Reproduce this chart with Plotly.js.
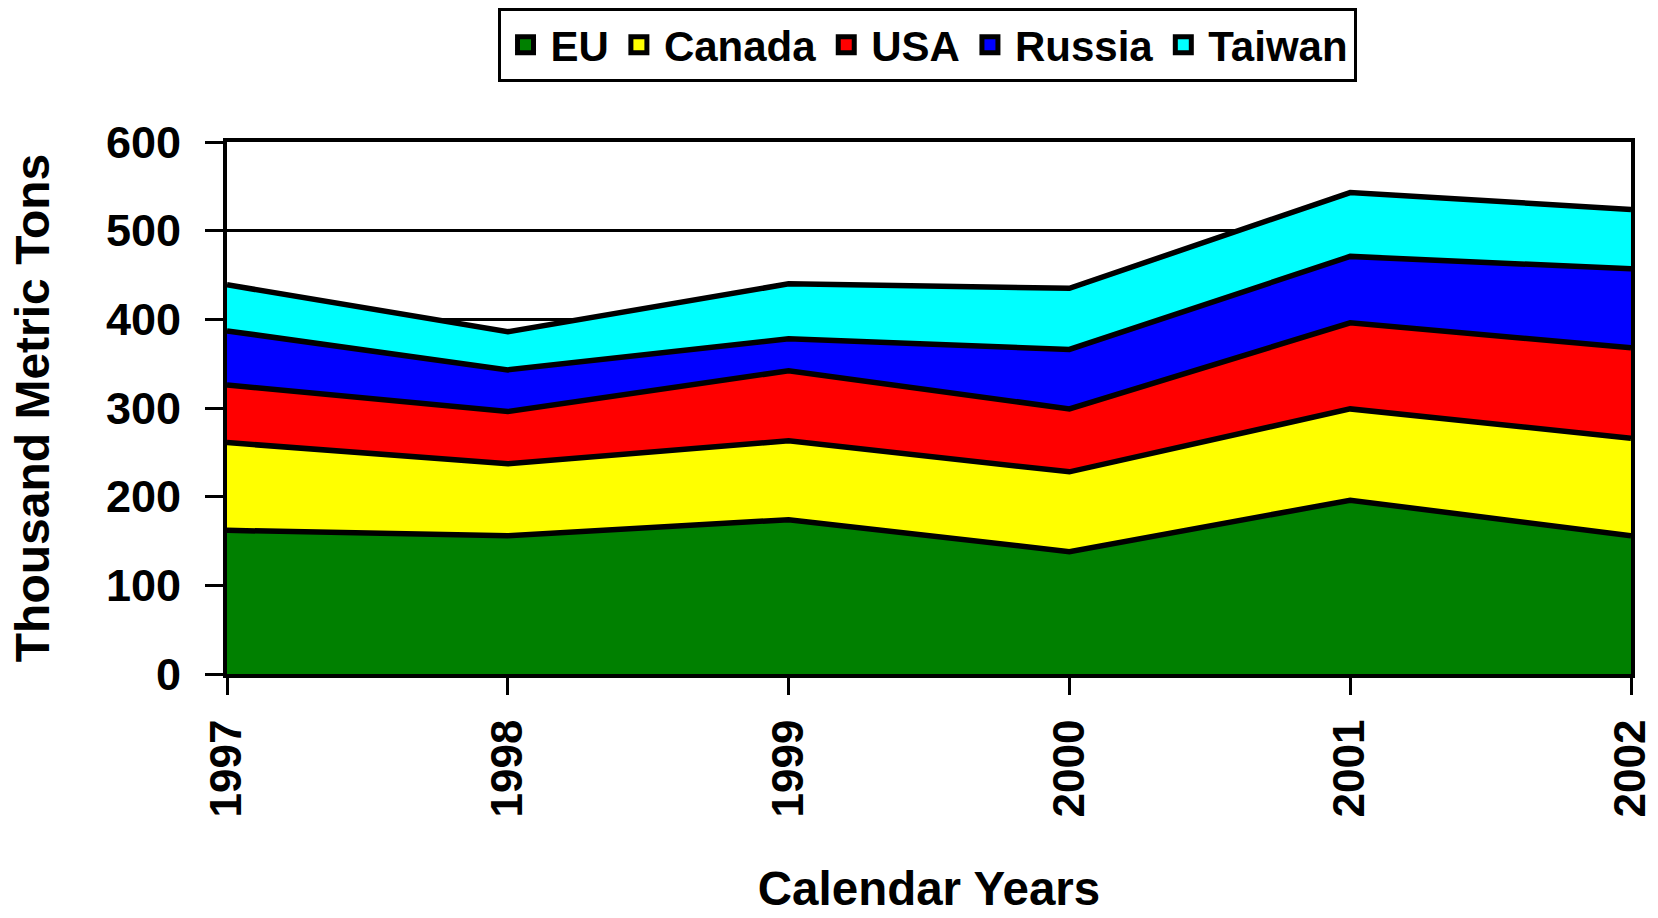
<!DOCTYPE html>
<html>
<head>
<meta charset="utf-8">
<script src="https://cdn.plot.ly/plotly-3.0.1.min.js"></script>
<style>
  html, body { margin: 0; padding: 0; background: #fff; }
  #graph { width: 1658px; height: 918px; }
</style>
</head>
<body>
<div id="graph"></div>
<script>
// years on the x axis
let years = [1997, 1998, 1999, 2000, 2001, 2002];
let yearLabels = ["1997", "1998", "1999", "2000", "2001", "2002"];

// thousand metric tons (stacked bottom to top)
let euVals = [162, 156, 174, 138, 196, 156];
let canadaVals = [99, 81, 89, 90, 103, 110];
let usaVals = [65, 59, 79, 71, 97, 102];
let russiaVals = [61, 47, 36, 67, 75, 89];
let taiwanVals = [52, 43, 62, 69, 72, 67];

let seriesNames = ["EU", "Canada", "USA", "Russia", "Taiwan"];
let seriesColors = ["#008000", "#ffff00", "#ff0000", "#0000ff", "#00ffff"];
let seriesVals = [euVals, canadaVals, usaVals, russiaVals, taiwanVals];

let boldFont = { family: "Arial, 'Liberation Sans', sans-serif", color: "#000", weight: "bold" };

let data = [];
// the stacked areas
for (let i = 0; i < seriesNames.length; i++) {
  data.push({
    x: years,
    y: seriesVals[i],
    name: seriesNames[i],
    type: "scatter",
    mode: "lines",
    stackgroup: "one",
    fillcolor: seriesColors[i],
    line: { color: "#000", width: 5.5 },
    showlegend: false,
    hoverinfo: "skip"
  });
}
// legend entries only (square swatches with black outline)
for (let i = 0; i < seriesNames.length; i++) {
  data.push({
    x: [null],
    y: [null],
    name: seriesNames[i],
    type: "scatter",
    mode: "markers",
    marker: { symbol: "square", size: 16, color: seriesColors[i], line: { color: "#000", width: 5 } },
    showlegend: true,
    hoverinfo: "skip"
  });
}

let layout = {
  width: 1658,
  height: 918,
  paper_bgcolor: "#fff",
  plot_bgcolor: "#fff",
  margin: { l: 227, r: 27, t: 142, b: 244, autoexpand: false },
  showlegend: true,
  legend: {
    orientation: "h",
    traceorder: "normal",
    x: 0.4986,
    xanchor: "center",
    y: 1 + (142 - 8) / 532,
    yanchor: "top",
    bordercolor: "#000",
    borderwidth: 3,
    bgcolor: "#fff",
    font: Object.assign({ size: 42 }, boldFont),
    itemwidth: 40
  },
  xaxis: {
    range: [1997, 2002],
    tickvals: years,
    ticktext: yearLabels,
    tickangle: -90,
    ticks: "outside",
    ticklen: 17,
    tickwidth: 3,
    tickcolor: "#000",
    ticklabelstandoff: 7,
    showline: true,
    linecolor: "#000",
    linewidth: 4,
    mirror: true,
    showgrid: false,
    zeroline: false,
    tickfont: Object.assign({ size: 44 }, boldFont),
    title: { text: "Calendar Years", font: Object.assign({ size: 47.5 }, boldFont), standoff: 56 }
  },
  yaxis: {
    range: [0, 600],
    dtick: 100,
    ticks: "outside",
    ticklen: 18,
    tickwidth: 3,
    tickcolor: "#000",
    ticklabelstandoff: 15,
    showline: true,
    linecolor: "#000",
    linewidth: 4,
    mirror: true,
    showgrid: true,
    gridcolor: "#000",
    gridwidth: 3,
    zeroline: false,
    tickfont: Object.assign({ size: 45 }, boldFont),
    title: { text: "Thousand Metric Tons", font: Object.assign({ size: 48 }, boldFont), standoff: 42 }
  }
};

Plotly.newPlot("graph", data, layout, { displayModeBar: false, staticPlot: true });
</script>
</body>
</html>
